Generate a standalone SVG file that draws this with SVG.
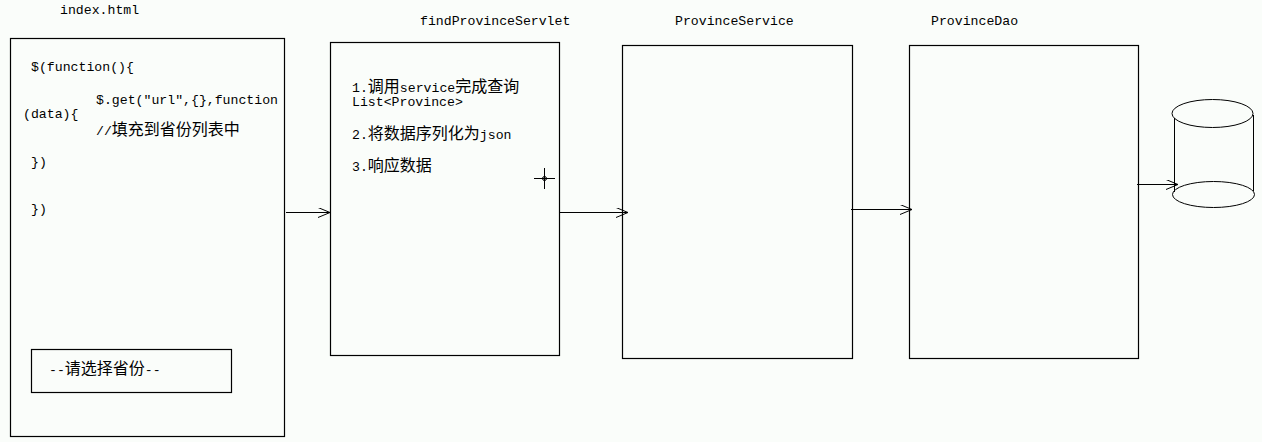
<svg xmlns="http://www.w3.org/2000/svg" width="1262" height="442" viewBox="0 0 1262 442">
<style>
.box{fill:none;stroke:#000;stroke-width:1.2}
.t{font-family:"Liberation Mono","Noto Sans CJK SC",monospace;font-size:13.2px;fill:#000}
.c{font-family:"Noto Sans CJK SC",sans-serif;font-size:16px}
.ln{fill:none;stroke:#000;stroke-width:1}
</style>
<defs>
<marker id="arr" viewBox="0 0 12 10" refX="12" refY="5" markerWidth="12" markerHeight="10" markerUnits="userSpaceOnUse" orient="auto">
<path d="M0,0 L12,5 L0,10" fill="none" stroke="#000" stroke-width="1"/>
</marker>
</defs>
<rect width="1262" height="442" fill="#fafdfa"/>
<g id="index">
<text class="t" x="60" y="14">index.html</text>
<rect class="box" x="10.5" y="38.5" width="274" height="398"/>
<text class="t" x="31" y="71">$(function(){</text>
<text class="t" x="96" y="104">$.get("url",{},function</text>
<text class="t" x="23" y="118">(data){</text>
<text class="t" x="96" y="135">//<tspan class="c">填充到省份列表中</tspan></text>
<text class="t" x="31" y="166">})</text>
<text class="t" x="31" y="213">})</text>
<rect class="box" x="31.5" y="349.5" width="200" height="43"/>
<text class="t" x="49" y="374">--<tspan class="c">请选择省份</tspan>--</text>
</g>
<g id="servlet">
<text class="t" x="420" y="25">findProvinceServlet</text>
<rect class="box" x="330.5" y="42.5" width="229" height="313"/>
<text class="t" x="352" y="92">1.<tspan class="c">调用</tspan>service<tspan class="c">完成查询</tspan></text>
<text class="t" x="352" y="106">List&lt;Province&gt;</text>
<text class="t" x="352" y="139">2.<tspan class="c">将数据序列化为</tspan>json</text>
<text class="t" x="352" y="171">3.<tspan class="c">响应数据</tspan></text>
<g class="ln">
<line x1="534" y1="178.5" x2="555" y2="178.5"/>
<line x1="544.5" y1="168" x2="544.5" y2="189"/>
<circle cx="544.5" cy="178.5" r="2"/>
</g>
</g>
<g id="service">
<text class="t" x="675" y="25">ProvinceService</text>
<rect class="box" x="622.5" y="45.5" width="230" height="313"/>
</g>
<g id="dao">
<text class="t" x="931" y="25">ProvinceDao</text>
<rect class="box" x="909.5" y="45.5" width="229" height="313"/>
</g>
<g id="db" class="ln">
<ellipse cx="1212.5" cy="113.5" rx="40.5" ry="14"/>
<line x1="1174.5" y1="118" x2="1174.5" y2="192"/>
<line x1="1253.5" y1="115" x2="1253.5" y2="191"/>
<ellipse cx="1213.5" cy="194.5" rx="41" ry="13"/>
</g>
<g id="connectors" class="ln">
<line x1="286" y1="212.5" x2="330" y2="212.5" marker-end="url(#arr)"/>
<line x1="559" y1="212.5" x2="628" y2="212.5" marker-end="url(#arr)"/>
<line x1="851" y1="209.5" x2="912" y2="209.5" marker-end="url(#arr)"/>
<line x1="1137" y1="184.5" x2="1178" y2="184.5" marker-end="url(#arr)"/>
</g>
</svg>
